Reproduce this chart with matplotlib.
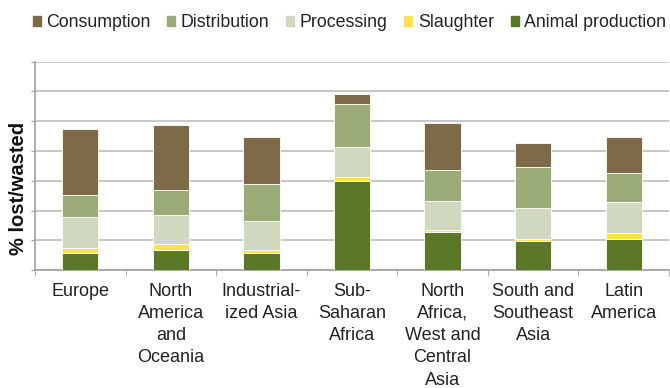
import matplotlib
matplotlib.use("Agg")
from matplotlib import pyplot as plt
from matplotlib.patches import Patch
import numpy as np

plt.rcParams['font.family'] = ['Liberation Sans', 'DejaVu Sans']

regions = ["Europe", "North\nAmerica\nand\nOceania", "Industrial-\nized Asia",
           "Sub-\nSaharan\nAfrica", "North\nAfrica,\nWest and\nCentral\nAsia",
           "South and\nSoutheast\nAsia", "Latin\nAmerica"]

# % lost/wasted per stage (bottom to top)
animal = [5.9, 6.8, 5.9, 30.0, 13.0, 9.8, 10.5]
slaughter = [1.5, 2.1, 0.9, 1.4, 0.6, 0.6, 2.0]
processing = [10.4, 9.7, 9.8, 10.0, 9.7, 10.4, 10.3]
distribution = [7.5, 8.3, 12.3, 14.3, 10.4, 13.9, 9.7]
consumption = [22.0, 22.0, 15.9, 3.5, 15.8, 8.1, 12.3]

stages = ["Animal production", "Slaughter", "Processing", "Distribution", "Consumption"]
colors = ["#5a7828", "#ffe150", "#d0d9c0", "#9bab78", "#7f6a48"]

fig = plt.figure(figsize=(6.7, 3.88), dpi=100)
ax = fig.add_axes([0.0522, 0.3034, 0.9463, 0.5376])

x = np.arange(len(regions))
bottom = np.zeros(len(regions))
for vals, c in zip([animal, slaughter, processing, distribution, consumption], colors):
    ax.bar(x, vals, 0.4, bottom=bottom, color=c, edgecolor='white', linewidth=0.6, zorder=3)
    bottom += np.array(vals)

ax.set_xlim(-0.5, 6.5)
ax.set_ylim(0, 70)
ax.set_yticks(np.arange(0, 71, 10))
ax.set_yticklabels([])
ax.tick_params(axis='y', length=3, color='#a0a0a0', direction='out')
ax.yaxis.grid(True, color='#bdbdbd', linewidth=1.2, zorder=0)
ax.set_xticks(x)
ax.set_xticklabels(regions, fontsize=13, color='#222222', linespacing=1.4, va='top')
ax.set_xticks(np.arange(-0.5, 7, 1), minor=True)
ax.tick_params(axis='x', which='major', length=0, pad=9)
ax.tick_params(axis='x', which='minor', length=4, color='#a0a0a0')
for s in ['top', 'right']:
    ax.spines[s].set_visible(False)
for s in ['left', 'bottom']:
    ax.spines[s].set_color('#a0a0a0')
    ax.spines[s].set_linewidth(1.2)

fig.text(0.027, 1 - 188 / 388, "% lost/wasted", rotation=90, fontsize=14.5,
         fontweight='bold', ha='center', va='center', color='#111111')

handles = [Patch(color=c, label=l) for c, l in zip(colors[::-1], stages[::-1])]
fig.legend(handles=handles, loc='center', bbox_to_anchor=(0.5216, 0.941), ncol=5,
           frameon=False, fontsize=12.8, handlelength=0.45, handleheight=0.45,
           handletextpad=0.3, columnspacing=0.95, labelcolor='#222222')

fig.savefig("out.png", dpi=100)
